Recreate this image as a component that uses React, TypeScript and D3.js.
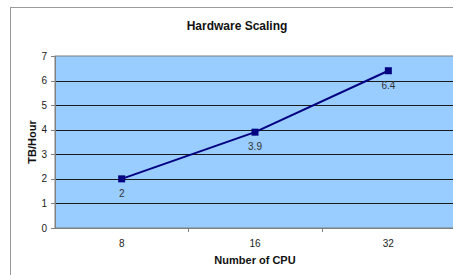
import React from "react";
import * as d3 from "d3";

const categories = ["8", "16", "32"];
const values = [2, 3.9, 6.4];
const valueLabels = ["2", "3.9", "6.4"];
const yTicks = [0, 1, 2, 3, 4, 5, 6, 7];

function App() {
  const width = 453;
  const height = 275;
  const plot = { left: 55, right: 455, top: 56, bottom: 228 };
  const font = "'Liberation Sans', Arial, sans-serif";

  const xScale = d3
    .scaleBand()
    .domain(categories)
    .range([plot.left, plot.right]);

  const yScale = d3.scaleLinear().domain([0, 7]).range([plot.bottom, plot.top]);

  const cx = (c: string) => (xScale(c) as number) + xScale.bandwidth() / 2;

  const line = d3
    .line<number>()
    .x((_, i) => cx(categories[i]))
    .y((d) => yScale(d));

  // category boundaries (ticks between categories)
  const boundaries = categories.slice(1).map((c) => xScale(c) as number);

  return (
    <svg
      width={width}
      height={height}
      style={{ position: "absolute", left: 0, top: 0, background: "#fff" }}
    >
      {/* chart area border */}
      <line x1={10.5} x2={10.5} y1={7} y2={height} stroke="#9a9a9a" />
      <line x1={10} x2={width} y1={7.5} y2={7.5} stroke="#9a9a9a" />

      {/* title */}
      <text
        x={237}
        y={30}
        textAnchor="middle"
        fontFamily={font}
        fontWeight="bold"
        fontSize={12}
        fill="#111"
      >
        Hardware Scaling
      </text>

      {/* plot area */}
      <rect
        x={plot.left}
        y={plot.top}
        width={plot.right - plot.left}
        height={plot.bottom - plot.top}
        fill="#99ccff"
        stroke="#808080"
      />

      {/* gridlines */}
      {yTicks.slice(1, -1).map((t) => (
        <line
          key={"g" + t}
          x1={plot.left}
          x2={plot.right}
          y1={Math.round(yScale(t)) + 0.5}
          y2={Math.round(yScale(t)) + 0.5}
          stroke="#1a1a1a"
        />
      ))}

      {/* axes */}
      <line
        x1={plot.left + 0.5}
        x2={plot.left + 0.5}
        y1={plot.top}
        y2={plot.bottom}
        stroke="#808080"
      />
      <line
        x1={plot.left}
        x2={plot.right}
        y1={plot.bottom + 0.5}
        y2={plot.bottom + 0.5}
        stroke="#808080"
      />

      {/* y ticks + labels */}
      {yTicks.map((t) => (
        <g key={"y" + t}>
          <line
            x1={plot.left - 4}
            x2={plot.left}
            y1={Math.round(yScale(t)) + 0.5}
            y2={Math.round(yScale(t)) + 0.5}
            stroke="#808080"
          />
          <text
            x={plot.left - 8}
            y={yScale(t)}
            textAnchor="end"
            dominantBaseline="central"
            fontFamily={font}
            fontSize={10}
            fill="#222"
          >
            {t}
          </text>
        </g>
      ))}

      {/* x ticks */}
      {boundaries.map((b, i) => (
        <line
          key={"xt" + i}
          x1={Math.round(b) + 0.5}
          x2={Math.round(b) + 0.5}
          y1={plot.bottom}
          y2={plot.bottom + 4}
          stroke="#808080"
        />
      ))}

      {/* x labels */}
      {categories.map((c) => (
        <text
          key={"xl" + c}
          x={cx(c)}
          y={243}
          textAnchor="middle"
          dominantBaseline="central"
          fontFamily={font}
          fontSize={10}
          fill="#222"
        >
          {c}
        </text>
      ))}

      {/* axis titles */}
      <text
        x={255}
        y={260}
        textAnchor="middle"
        dominantBaseline="central"
        fontFamily={font}
        fontWeight="bold"
        fontSize={11}
        fill="#111"
      >
        Number of CPU
      </text>
      <text
        transform={`translate(32, ${(plot.top + plot.bottom) / 2}) rotate(-90)`}
        textAnchor="middle"
        dominantBaseline="central"
        fontFamily={font}
        fontWeight="bold"
        fontSize={11}
        fill="#111"
      >
        TB/Hour
      </text>

      {/* series */}
      <path d={line(values) ?? ""} fill="none" stroke="#000080" strokeWidth={2} />
      {values.map((v, i) => (
        <rect
          key={"m" + i}
          x={cx(categories[i]) - 3.5}
          y={yScale(v) - 3.5}
          width={7}
          height={7}
          fill="#000080"
        />
      ))}
      {values.map((v, i) => (
        <text
          key={"dl" + i}
          x={cx(categories[i])}
          y={yScale(v) + 14.5}
          textAnchor="middle"
          dominantBaseline="central"
          fontFamily={font}
          fontSize={10}
          fill="#333"
        >
          {valueLabels[i]}
        </text>
      ))}
    </svg>
  );
}

export default App;
